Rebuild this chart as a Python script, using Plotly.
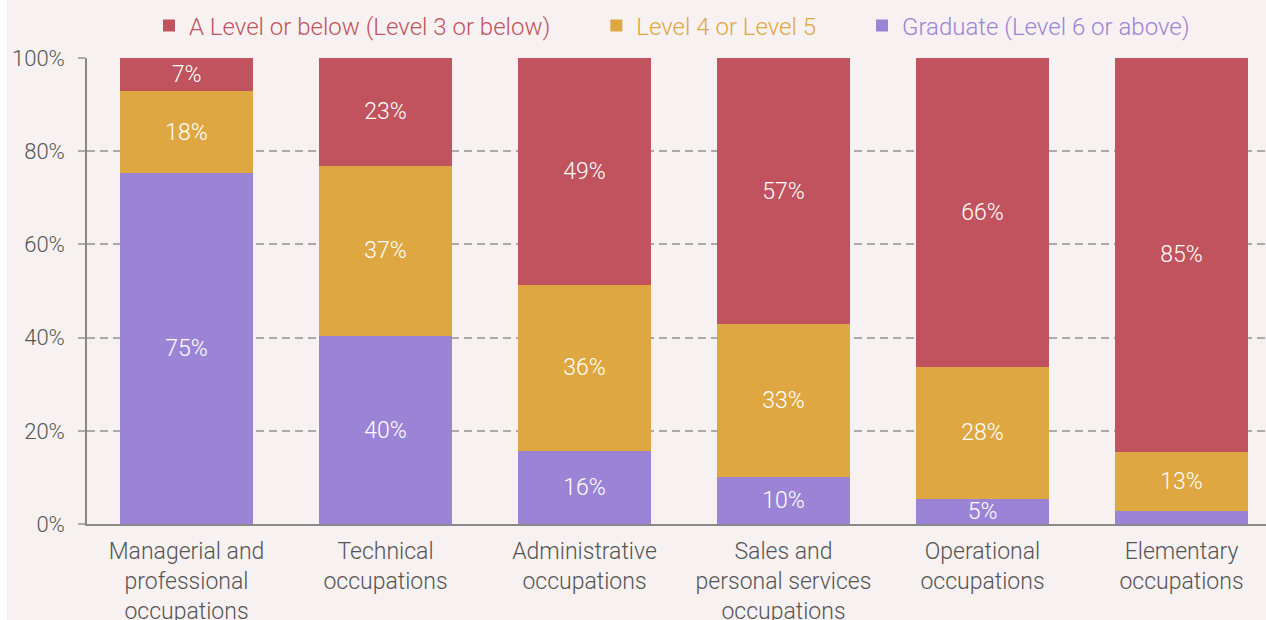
import plotly.graph_objects as go

categories = [
    "Managerial and<br>professional<br>occupations",
    "Technical<br>occupations",
    "Administrative<br>occupations",
    "Sales and<br>personal services<br>occupations",
    "Operational<br>occupations",
    "Elementary<br>occupations",
]
graduate = [75.3, 40.3, 15.7, 10.1, 5.4, 2.8]
level45 = [17.6, 36.6, 35.6, 32.8, 28.3, 12.7]
alevel = [7.1, 23.1, 48.7, 57.1, 66.3, 84.5]
graduate_labels = ["75%", "40%", "16%", "10%", "5%", ""]
level45_labels = ["18%", "37%", "36%", "33%", "28%", "13%"]
alevel_labels = ["7%", "23%", "49%", "57%", "66%", "85%"]
series_names = ["A Level or below (Level 3 or below)", "Level 4 or Level 5", "Graduate (Level 6 or above)"]
y_ticks = [0, 20, 40, 60, 80, 100]

C_RED = "#c0535d"
C_ORG = "#dea742"
C_PUR = "#9b84d6"
BG = "#f7f1f1"
FONT = "Roboto"
FS = 23

W, H = 1266, 620
ML, MT, MB, MR = 87, 58, 96, 0
PW = W - ML - MR
PH = H - MT - MB
SPACING = 199.0

fig = go.Figure()

def add(vals, labels, color, name, pad):
    fig.add_trace(go.Bar(
        x=categories, y=vals, text=labels,
        name=f'<span style="color:{color}">{name}</span>' + "&nbsp;" * pad,
        marker=dict(color=color, line=dict(width=0)),
        textposition="inside", insidetextanchor="middle", textangle=0,
        textfont=dict(color="white", size=FS, family=FONT, weight=300),
        width=0.668, hoverinfo="skip",
    ))

add(graduate, graduate_labels, C_PUR, series_names[2], 0)
add(level45, level45_labels, C_ORG, series_names[1], 7)
add(alevel, alevel_labels, C_RED, series_names[0], 7)

fig.update_layout(
    width=W, height=H,
    barmode="stack",
    paper_bgcolor="white", plot_bgcolor=BG,
    margin=dict(l=ML, r=MR, t=MT, b=MB, pad=0, autoexpand=False),
    font=dict(family=FONT, size=FS, color="#555555", weight=300),
    uniformtext=dict(minsize=FS, mode="show"),
    showlegend=True,
    legend=dict(
        orientation="h", traceorder="reversed",
        x=(672 - ML) / PW, xanchor="center",
        y=1 + 32 / PH, yanchor="middle",
        font=dict(size=24, family=FONT, weight=300),
        bgcolor="rgba(0,0,0,0)",
        itemclick=False, itemdoubleclick=False,
    ),
    xaxis=dict(
        range=[-0.5, -0.5 + PW / SPACING], automargin=False,
        showline=True, linecolor="#888888", linewidth=1.5,
        ticks="", showgrid=False, ticklabelstandoff=6,
        tickfont=dict(size=FS, color="#555555"),
    ),
    yaxis=dict(
        range=[0, 100], tickvals=y_ticks, automargin=False,
        ticktext=[f"{v}%" for v in y_ticks],
        showline=True, linecolor="#888888", linewidth=1.5,
        ticks="outside", ticklen=7, tickcolor="#aaaaaa", tickwidth=2,
        ticklabelstandoff=9,
        showgrid=True, gridcolor="#aaaaaa", gridwidth=2, griddash="8px,5px",
        zeroline=False,
        tickfont=dict(size=FS - 1, color="#555555"),
        layer="above traces",
    ),
    shapes=[dict(
        type="rect", xref="paper", yref="paper", layer="below",
        x0=(7 - ML) / PW, x1=1.05, y0=-0.5, y1=1.5,
        fillcolor=BG, line=dict(width=0),
    )],
)

fig.write_html(
    "out.html",
    config={"displayModeBar": False},
    post_script="document.body.style.margin='0px';document.body.style.overflow='hidden';",
)
